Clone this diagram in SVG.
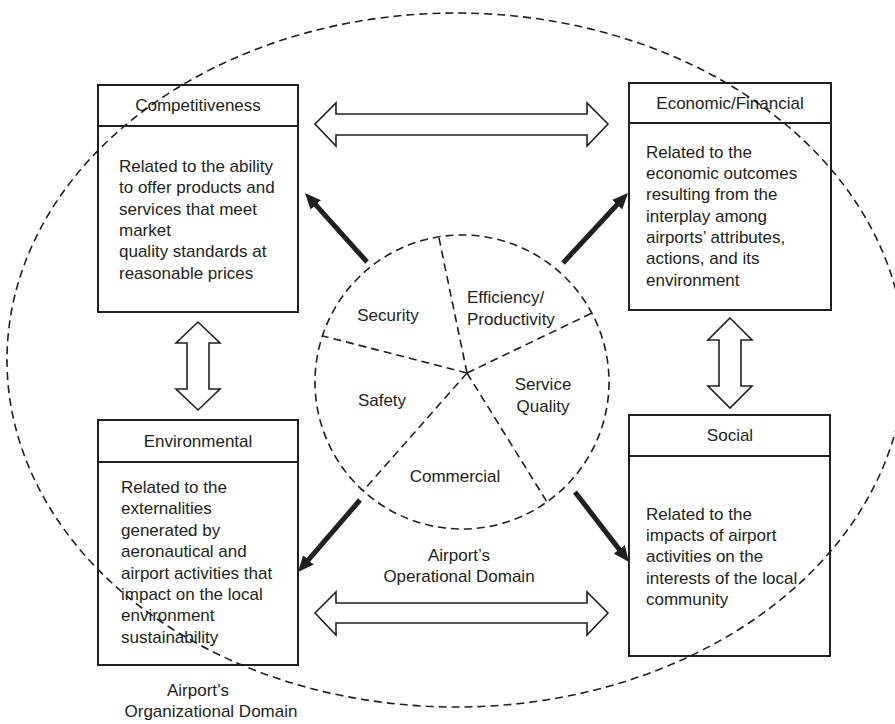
<svg xmlns="http://www.w3.org/2000/svg" width="895" height="724" viewBox="0 0 895 724">
<style>
text{font-family:"Liberation Sans",Arial,sans-serif;font-size:17px;fill:#231f20}
.c{text-anchor:middle}
.box{fill:none;stroke:#231f20;stroke-width:2}
.dash{fill:none;stroke:#231f20;stroke-width:1.6;stroke-dasharray:8 5}
.hollow{fill:#fff;stroke:#231f20;stroke-width:1.6;stroke-linejoin:miter}
.thick{stroke:#231f20;stroke-width:5;fill:none;marker-end:url(#ah)}
</style>
<defs>
<marker id="ah" viewBox="0 0 16 14" refX="6" refY="7" markerWidth="16" markerHeight="14" markerUnits="userSpaceOnUse" orient="auto">
<path d="M0,0 L16,7 L0,14 z" fill="#231f20"/>
</marker>
</defs>
<rect width="895" height="724" fill="#fff"/>

<g id="connectors">
<polygon class="hollow" points="315,124 336,103 336,114 587,114 587,103 608,124 587,146 587,135 336,135 336,146"/>
<polygon class="hollow" points="315,613 336,592 336,603 587,603 587,592 608,613 587,635 587,623 336,623 336,635"/>
<polygon class="hollow" points="198,322 220,343 209,343 209,389 220,389 198,410 176,389 187,389 187,343 176,343"/>
<polygon class="hollow" points="730,318 752,340 741,340 741,386 752,386 730,408 708,386 719,386 719,340 708,340"/>
<line class="thick" x1="367" y1="262" x2="311.7" y2="200.4"/>
<line class="thick" x1="563" y1="263" x2="621.2" y2="200.3"/>
<line class="thick" x1="360" y1="500" x2="304.5" y2="564.4"/>
<line class="thick" x1="575" y1="492" x2="622.9" y2="554.1"/>
</g>

<g id="competitiveness">
<rect class="box" x="98" y="85" width="200" height="227"/>
<line class="box" x1="98" y1="126" x2="298" y2="126"/>
<text class="c" x="198" y="111">Competitiveness</text>
<text x="119" y="172">Related to the ability</text>
<text x="119" y="193">to offer products and</text>
<text x="119" y="215">services that meet</text>
<text x="119" y="236">market</text>
<text x="119" y="257">quality standards at</text>
<text x="119" y="279">reasonable prices</text>
</g>

<g id="economic">
<rect class="box" x="629" y="83" width="202" height="227"/>
<line class="box" x1="629" y1="123" x2="831" y2="123"/>
<text class="c" x="730" y="109">Economic/Financial</text>
<text x="646" y="158">Related to the</text>
<text x="646" y="179">economic outcomes</text>
<text x="646" y="200">resulting from the</text>
<text x="646" y="222">interplay among</text>
<text x="646" y="243">airports’ attributes,</text>
<text x="646" y="264">actions, and its</text>
<text x="646" y="286">environment</text>
</g>

<g id="environmental">
<rect class="box" x="98" y="420" width="200" height="245"/>
<line class="box" x1="98" y1="462" x2="298" y2="462"/>
<text class="c" x="198" y="447">Environmental</text>
<text x="121" y="493">Related to the</text>
<text x="121" y="514">externalities</text>
<text x="121" y="536">generated by</text>
<text x="121" y="557">aeronautical and</text>
<text x="121" y="579">airport activities that</text>
<text x="121" y="600">impact on the local</text>
<text x="121" y="621">environment</text>
<text x="121" y="643">sustainability</text>
</g>

<g id="social">
<rect class="box" x="629" y="415" width="201" height="241"/>
<line class="box" x1="629" y1="456" x2="830" y2="456"/>
<text class="c" x="730" y="441">Social</text>
<text x="646" y="520">Related to the</text>
<text x="646" y="541">impacts of airport</text>
<text x="646" y="562">activities on the</text>
<text x="646" y="584">interests of the local</text>
<text x="646" y="605">community</text>
</g>

<g id="operational-domain">
<circle class="dash" cx="462" cy="382" r="147"/>
<line class="dash" x1="467" y1="373" x2="439" y2="238"/>
<line class="dash" x1="467" y1="373" x2="592" y2="313"/>
<line class="dash" x1="467" y1="373" x2="323" y2="336"/>
<line class="dash" x1="467" y1="373" x2="363" y2="491"/>
<line class="dash" x1="467" y1="373" x2="547" y2="502"/>
<text class="c" x="388" y="321">Security</text>
<text x="467" y="303">Efficiency/</text>
<text x="467" y="325">Productivity</text>
<text class="c" x="382" y="406">Safety</text>
<text class="c" x="543" y="390">Service</text>
<text class="c" x="543" y="412">Quality</text>
<text class="c" x="455" y="482">Commercial</text>
<text class="c" x="459" y="561">Airport’s</text>
<text class="c" x="459" y="582">Operational Domain</text>
</g>

<g id="organizational-domain">
<ellipse class="dash" cx="456" cy="360" rx="449" ry="347"/>
<text class="c" x="198" y="696">Airport’s</text>
<text class="c" x="211" y="717">Organizational Domain</text>
</g>
</svg>
